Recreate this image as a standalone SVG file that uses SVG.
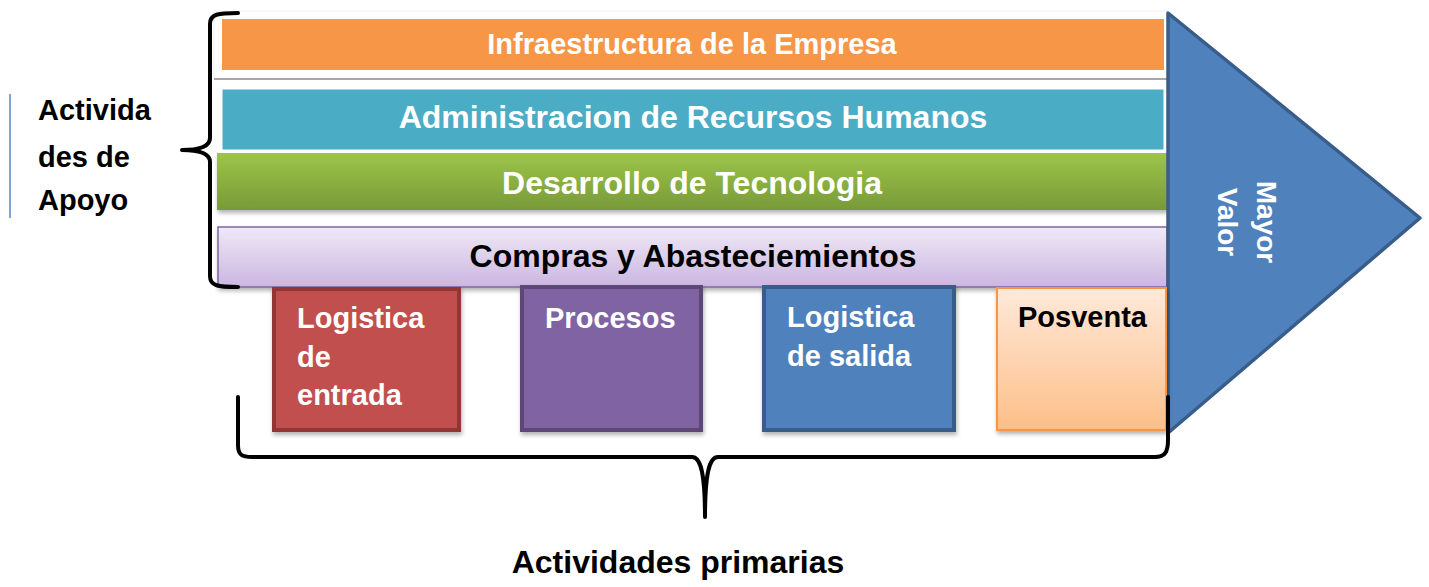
<svg xmlns="http://www.w3.org/2000/svg" width="1429" height="587" viewBox="0 0 1429 587">
<defs>
<linearGradient id="gGreen" x1="0" y1="0" x2="0" y2="1"><stop offset="0" stop-color="#9dc549"/><stop offset="1" stop-color="#789a38"/></linearGradient>
<linearGradient id="gLav" x1="0" y1="0" x2="0" y2="1"><stop offset="0" stop-color="#efe9f6"/><stop offset="1" stop-color="#cbb6e1"/></linearGradient>
<linearGradient id="gPeach" x1="0" y1="0" x2="0" y2="1"><stop offset="0" stop-color="#ffe9da"/><stop offset="1" stop-color="#fcbf88"/></linearGradient>
<filter id="sh" x="-5%" y="-10%" width="110%" height="130%"><feDropShadow dx="1" dy="3" stdDeviation="2" flood-color="#000" flood-opacity="0.3"/></filter>
<style>
.t{font-family:"Liberation Sans",Arial,sans-serif;font-weight:bold}
.w{fill:#fff}
.k{fill:#000}
.br{fill:none;stroke:#000;stroke-width:4;stroke-linecap:round;stroke-linejoin:round}
</style>
</defs>

<g id="frame">
<rect x="214" y="11" width="954" height="68" fill="#fff" stroke="#f0f0f0" stroke-width="1"/>
<line x1="214" y1="79" x2="1168" y2="79" stroke="#a8a8a8" stroke-width="2"/>
</g>

<g id="infraestructura">
<rect x="222" y="19" width="942" height="51" fill="#f79646"/>
<text class="t w" x="692" y="54" font-size="29" text-anchor="middle">Infraestructura de la Empresa</text>
</g>

<g id="rrhh">
<rect x="222" y="89" width="942" height="61" fill="#4bacc6" stroke="#fff" stroke-width="1"/>
<text class="t w" x="693" y="128" font-size="32" text-anchor="middle">Administracion de Recursos Humanos</text>
</g>

<g id="tecnologia">
<rect x="217" y="153" width="950" height="57" fill="url(#gGreen)" filter="url(#sh)"/>
<text class="t w" x="692" y="194" font-size="32" text-anchor="middle">Desarrollo de Tecnologia</text>
</g>

<g id="compras">
<rect x="218" y="227" width="949" height="60" fill="url(#gLav)" stroke="#8064a2" stroke-width="1.5" filter="url(#sh)"/>
<text class="t k" x="693" y="267" font-size="32" text-anchor="middle">Compras y Abasteciemientos</text>
</g>

<g id="mayor-valor">
<polygon points="1168,13 1420,218 1168,433" fill="#4f81bd" stroke="#385d8a" stroke-width="3.5" stroke-linejoin="round"/>
<text class="t w" font-size="28" text-anchor="middle" transform="translate(1257,222) rotate(90)">Mayor</text>
<text class="t w" font-size="28" text-anchor="middle" transform="translate(1218,222) rotate(90)">Valor</text>
</g>

<g id="logistica-entrada">
<rect x="274" y="289" width="185" height="141" fill="#c0504d" stroke="#943634" stroke-width="4" filter="url(#sh)"/>
<text class="t w" font-size="29"><tspan x="297" y="328">Logistica</tspan><tspan x="297" y="367">de</tspan><tspan x="297" y="405">entrada</tspan></text>
</g>

<g id="procesos">
<rect x="522" y="287" width="179" height="143" fill="#8064a2" stroke="#5c4776" stroke-width="4" filter="url(#sh)"/>
<text class="t w" x="545" y="328" font-size="29">Procesos</text>
</g>

<g id="logistica-salida">
<rect x="764" y="287" width="190" height="143" fill="#4f81bd" stroke="#385d8a" stroke-width="4" filter="url(#sh)"/>
<text class="t w" font-size="29"><tspan x="787" y="327">Logistica</tspan><tspan x="787" y="366">de salida</tspan></text>
</g>

<g id="posventa">
<rect x="997" y="288" width="169" height="142" fill="url(#gPeach)" stroke="#f79646" stroke-width="2" filter="url(#sh)"/>
<text class="t k" x="1018" y="327" font-size="29">Posventa</text>
</g>

<g id="apoyo-label">
<line x1="10" y1="94" x2="10" y2="218" stroke="#7ea4d8" stroke-width="2"/>
<text class="t k" font-size="29"><tspan x="38" y="120">Activida</tspan><tspan x="38" y="167">des de</tspan><tspan x="38" y="210">Apoyo</tspan></text>
</g>

<g id="connectors">
<path class="br" d="M238,13 C218,13 210,14 210,24 L210,138 C210,146 200,150 182,150 C200,150 210,154 210,162 L210,276 C210,286 218,287 238,287"/>
<path class="br" d="M238,397 L238,445 C238,455 242,457 252,457 L692,457 C700,457 705,470 705,517 C705,470 710,457 718,457 L1155,457 C1165,457 1168,452 1168,440 L1168,397"/>
</g>

<g id="primarias-label">
<text class="t k" x="678" y="573" font-size="32" text-anchor="middle">Actividades primarias</text>
</g>
</svg>
